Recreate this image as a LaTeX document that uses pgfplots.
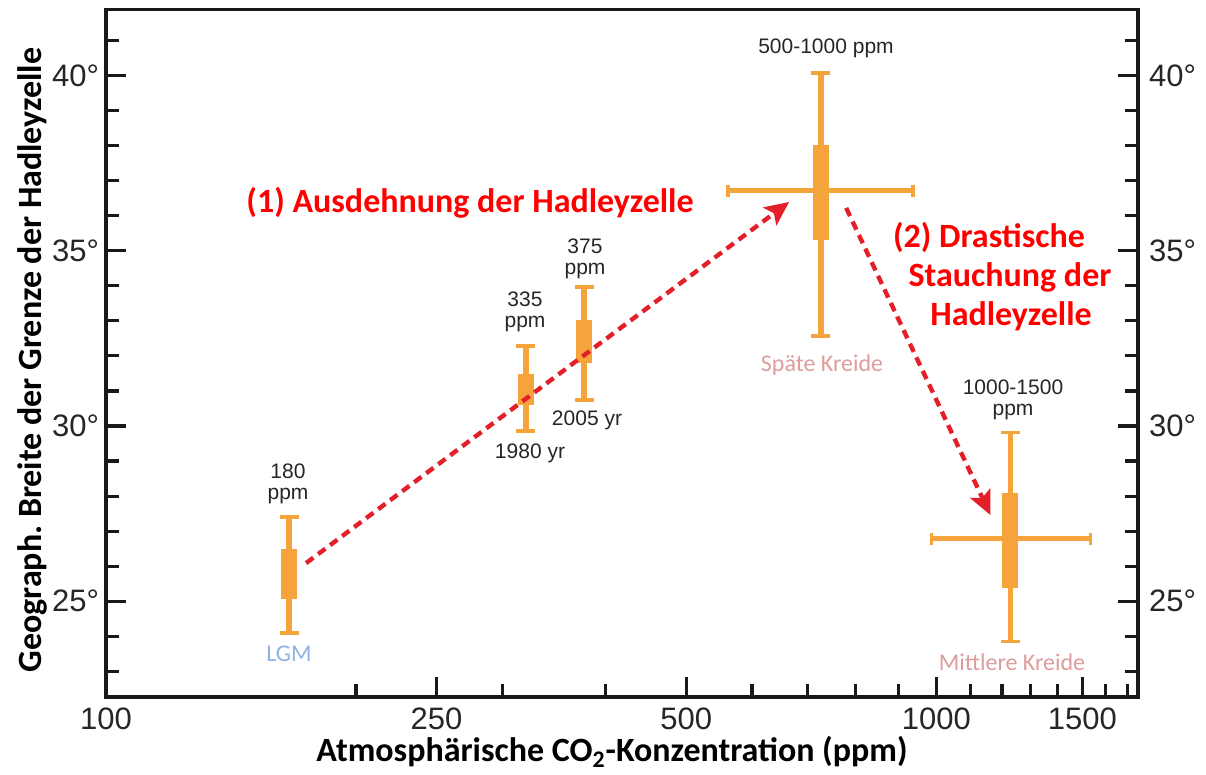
\documentclass[border=0pt]{standalone}
\usepackage{fontspec}
\setmainfont{Liberation Sans}
\newfontfamily\cali{Carlito}
\usepackage{pgfplots}
\pgfplotsset{compat=1.18}
\usetikzlibrary{arrows.meta}
\definecolor{orng}{HTML}{F5A33B}
\definecolor{arrred}{HTML}{E3202A}
\definecolor{txtred}{HTML}{FF0000}
\definecolor{lgmblue}{HTML}{8DB4E2}
\definecolor{kreide}{HTML}{DE9C9C}
\definecolor{ticktxt}{HTML}{262626}
\frenchspacing

\begin{document}
\begin{tikzpicture}
% 1 px of the reference = 0.5pt; axis box lower left at the origin
\path[use as bounding box] (-53pt,-39pt) rectangle (550pt,348.5pt);

\begin{axis}[
  at={(0pt,0pt)}, anchor=south west,
  scale only axis, width=516pt, height=343.75pt,
  xmode=log, xmin=100, xmax=1750,
  ymin=22.27, ymax=41.88,
  axis line style={line width=1.8pt, color=black!90},
  tick style={line width=1.6pt, color=black!90},
  tick align=inside,
  major tick length=10pt, minor tick length=6.5pt,
  xtick pos=bottom, ytick pos=both,
  xtick={100,250,500,1000,1500},
  xticklabels={100,250,500,1000,1500},
  minor xtick={200,300,400,600,700,800,900,1100,1200,1300,1400,1600,1700},
  ytick={25,30,35,40},
  yticklabels={25°,30°,35°,40°},
  minor ytick={23,24,26,27,28,29,31,32,33,34,36,37,38,39,41},
  ticklabel style={font=\fontsize{15.5}{18}\selectfont, text=ticktxt},
  xticklabel style={yshift=-2pt},
  clip=false,
]
% LGM
\addplot[orng, line width=2.8pt, mark=-, mark size=4.75pt, mark options={line width=1.8pt}] coordinates {(166.2,24.10) (166.2,27.41)};
\addplot[orng, line width=8pt] coordinates {(166.2,25.06) (166.2,26.49)};
% 1980
\addplot[orng, line width=2.8pt, mark=-, mark size=4.75pt, mark options={line width=1.8pt}] coordinates {(320.4,29.86) (320.4,32.28)};
\addplot[orng, line width=8pt] coordinates {(320.4,30.60) (320.4,31.48)};
% 2005
\addplot[orng, line width=2.8pt, mark=-, mark size=4.75pt, mark options={line width=1.8pt}] coordinates {(376.6,30.74) (376.6,33.96)};
\addplot[orng, line width=8pt] coordinates {(376.6,31.81) (376.6,33.02)};
% Spaete Kreide
\addplot[orng, line width=2.5pt, mark=|, mark size=3pt, mark options={line width=1.8pt}] coordinates {(561.6,36.71) (938.2,36.71)};
\addplot[orng, line width=2.8pt, mark=-, mark size=4.75pt, mark options={line width=1.8pt}] coordinates {(726.3,32.57) (726.3,40.06)};
\addplot[orng, line width=8pt] coordinates {(726.3,35.31) (726.3,38.02)};
% Mittlere Kreide
\addplot[orng, line width=2.5pt, mark=|, mark size=3pt, mark options={line width=1.8pt}] coordinates {(986.3,26.78) (1533,26.78)};
\addplot[orng, line width=2.8pt, mark=-, mark size=4.75pt, mark options={line width=1.8pt}] coordinates {(1228,23.85) (1228,29.81)};
\addplot[orng, line width=8pt] coordinates {(1228,25.39) (1228,28.09)};

% arrows
\draw[arrred, line width=2.2pt, dash pattern=on 4.5pt off 3pt, -{Stealth[length=12pt,width=11pt,inset=2.5pt]}]
  (axis cs:174.2,26.09) -- (axis cs:665,36.39);
\draw[arrred, line width=2.2pt, dash pattern=on 4.5pt off 3pt, -{Stealth[length=12pt,width=11pt,inset=2.5pt]}]
  (axis cs:779,36.22) -- (axis cs:1162,27.46);
\end{axis}

% right-hand tick labels
\begin{axis}[
  at={(0pt,0pt)}, anchor=south west,
  scale only axis, width=516pt, height=343.75pt,
  xmode=log, xmin=100, xmax=1750,
  ymin=22.27, ymax=41.88,
  axis line style={draw=none},
  xtick=\empty, major tick length=0pt,
  ytick={25,30,35,40},
  yticklabels={25°,30°,35°,40°},
  yticklabel pos=right,
  ticklabel style={font=\fontsize{15.5}{18}\selectfont, text=ticktxt},
  yticklabel style={xshift=2pt},
]
\end{axis}

% axis titles
\node[rotate=90, font=\cali\bfseries\fontsize{17}{20}\selectfont] at (-37pt,168.5pt)
  {Geograph. Breite der Grenze der Hadleyzelle};
\node[font=\cali\bfseries\fontsize{17}{20}\selectfont] at (253pt,-27.5pt)
  {Atmosphärische CO\textsubscript{2}-Konzentration (ppm)};

% red annotations
\begin{scope}[every node/.style={font=\cali\bfseries\fontsize{17}{20}\selectfont, text=txtred}]
\node at (182pt,247pt) {(1) Ausdehnung der Hadleyzelle};
\node at (441.5pt,230pt) {(2) Drastische};
\node at (452pt,210pt) {Stauchung der};
\node at (452.5pt,190.5pt) {Hadleyzelle};
\end{scope}

% small labels
\begin{scope}[every node/.style={font=\fontsize{10.5}{10.5}\selectfont, text=ticktxt, align=center}]
\node at (91pt,106.5pt) {180\\ppm};
\node at (209.5pt,192.5pt) {335\\ppm};
\node at (239.5pt,219pt) {375\\ppm};
\node at (212pt,122pt) {1980 yr};
\node at (240.5pt,138.5pt) {2005 yr};
\node at (360pt,324.5pt) {500-1000 ppm};
\node at (453.5pt,148.5pt) {1000-1500\\ppm};
\end{scope}
\begin{scope}[every node/.style={font=\cali\fontsize{12}{14}\selectfont}]
\node[text=lgmblue] at (91.5pt,21.5pt) {LGM};
\node[text=kreide] at (358pt,166pt) {Späte Kreide};
\node[text=kreide] at (453pt,17.5pt) {Mittlere Kreide};
\end{scope}
\end{tikzpicture}
\end{document}
